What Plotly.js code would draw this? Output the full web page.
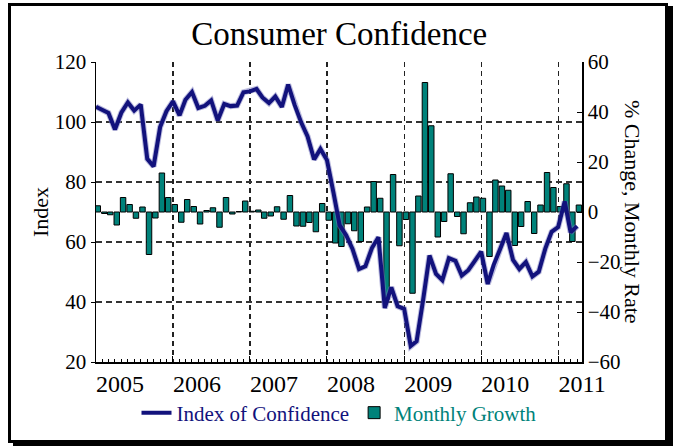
<!DOCTYPE html>
<html>
<head>
<meta charset="utf-8">
<script src="https://cdn.plot.ly/plotly-3.0.1.min.js"></script>
<style>
  html, body { margin: 0; padding: 0; background: #fff; }
  #chart { width: 673px; height: 446px; }
  #frame {
    position: absolute; left: 8px; top: 3px;
    width: 654px; height: 434px;
    border: 3px solid #000;
    box-shadow: 5px 3px 0 #000;
    pointer-events: none;
  }
</style>
</head>
<body>
<div id="chart"></div>
<div id="frame"></div>
<script>
// ---- Data ----
const years = ['2005', '2006', '2007', '2008', '2009', '2010', '2011'];

// Index of Confidence, monthly, Jan 2005 - Apr 2011
const index2005 = [105.1, 104.0, 103.0, 97.5, 103.1, 106.5, 103.8, 105.8, 87.7, 85.2, 98.3, 103.6];
const index2006 = [106.9, 102.2, 107.4, 110.0, 104.7, 105.4, 107.2, 100.5, 106.0, 105.3, 105.5, 109.9];
const index2007 = [110.2, 111.0, 108.2, 106.3, 108.5, 105.0, 112.5, 105.6, 99.8, 95.2, 87.5, 91.0];
const index2008 = [87.3, 76.4, 65.6, 62.3, 57.7, 51.0, 51.9, 58.0, 61.6, 38.0, 44.9, 38.6];
const index2009 = [37.7, 25.3, 26.9, 40.8, 55.5, 49.4, 47.3, 54.6, 53.7, 48.8, 50.6, 53.6];
const index2010 = [56.8, 46.0, 52.3, 57.7, 63.0, 54.0, 51.0, 53.3, 48.5, 50.1, 57.8, 63.4];
const index2011 = [65.0, 73.5, 63.2, 65.3];

// Monthly Growth (% change), Jan 2005 - Apr 2011
const growth2005 = [2.5, -0.6, -1.1, -5.2, 5.8, 3.0, -2.5, 2.0, -17.0, -2.4, 15.6, 5.8];
const growth2006 = [3.0, -4.1, 5.0, 2.2, -4.8, 0.6, 1.7, -6.1, 5.8, -0.8, 0.2, 4.4];
const growth2007 = [0.3, 0.8, -2.5, -1.6, 2.1, -2.9, 6.6, -5.6, -5.7, -4.2, -7.9, 3.4];
const growth2008 = [-3.3, -12.4, -13.8, -4.7, -7.5, -11.8, 2.0, 12.2, 5.5, -35.0, 15.0, -13.5];
const growth2009 = [-3.0, -32.5, 6.4, 51.8, 34.5, -10.0, -3.8, 15.3, -1.8, -8.7, 3.7, 6.0];
const growth2010 = [5.5, -17.8, 12.8, 10.4, 8.7, -13.4, -5.8, 4.2, -8.6, 2.8, 15.8, 9.8];
const growth2011 = [2.2, 11.3, -11.8, 2.8];

// ---- Build series ----
const indexByYear = [index2005, index2006, index2007, index2008, index2009, index2010, index2011];
const growthByYear = [growth2005, growth2006, growth2007, growth2008, growth2009, growth2010, growth2011];

const dates = [], indexVals = [], growthVals = [];
indexByYear.forEach((arr, yi) => {
  arr.forEach((v, mi) => {
    dates.push(years[yi] + '-' + String(mi + 1).padStart(2, '0') + '-01');
    indexVals.push(v);
    growthVals.push(growthByYear[yi][mi]);
  });
});

const MONTH_MS = 30.44 * 24 * 3600 * 1000;
const FONT = 'Liberation Serif, Times New Roman, serif';
const NAVY = '#12127c';
const TEAL = '#00827a';

const bars = {
  type: 'bar',
  name: '<span style="color:' + TEAL + '">Monthly Growth</span>',
  x: dates,
  y: growthVals,
  yaxis: 'y',
  width: 0.85 * MONTH_MS,
  offset: -0.15 * MONTH_MS,
  marker: { color: TEAL, line: { color: '#000', width: 1 } }
};

const halo = {
  type: 'scatter', mode: 'lines', x: dates, y: indexVals, yaxis: 'y2',
  line: { color: 'rgba(120,120,190,0.5)', width: 6 },
  showlegend: false, hoverinfo: 'skip'
};

const line = {
  type: 'scatter', mode: 'lines',
  name: '<span style="color:' + NAVY + '">Index of Confidence</span>',
  x: dates, y: indexVals, yaxis: 'y2',
  line: { color: NAVY, width: 4 }
};

const layout = {
  width: 673, height: 446,
  margin: { l: 96, r: 91, t: 62, b: 84 },
  paper_bgcolor: '#fff', plot_bgcolor: '#fff',
  font: { family: FONT, color: '#000', size: 21 },
  title: {
    text: 'Consumer Confidence',
    font: { family: FONT, size: 33, color: '#000' },
    x: 0.504, xanchor: 'center', y: 0.925, yanchor: 'middle'
  },
  showlegend: true,
  legend: {
    orientation: 'h', x: 0.5, xanchor: 'center', y: -0.17, yanchor: 'middle',
    font: { family: FONT, size: 21 }, traceorder: 'reversed',
    itemwidth: 30, bgcolor: 'rgba(0,0,0,0)'
  },
  bargap: 0,
  xaxis: {
    type: 'date',
    range: ['2005-01-01', '2011-04-24'],
    tick0: '2005-01-01', dtick: 'M12', tickformat: '%Y',
    ticks: 'inside', ticklen: 6, tickcolor: '#000',
    ticklabelshift: 24,
    tickfont: { family: FONT, size: 24 },
    showgrid: true, gridcolor: '#222', griddash: '5px,4px', gridwidth: 1.2,
    showline: true, linecolor: '#000', linewidth: 1.5,
    zeroline: false,
    minor: { dtick: 'M1', ticks: 'inside', ticklen: 3, tickcolor: '#000', showgrid: false }
  },
  yaxis: {
    side: 'right', range: [-60, 60], dtick: 20,
    ticks: 'inside', ticklen: 5, tickcolor: '#000',
    tickfont: { family: FONT, size: 21 },
    showgrid: false, zeroline: false,
    showline: true, linecolor: '#000', linewidth: 1.5
  },
  yaxis2: {
    overlaying: 'y', side: 'left', range: [20, 120], dtick: 20,
    ticks: 'outside', ticklen: 4, tickcolor: '#000',
    tickfont: { family: FONT, size: 21 },
    title: { text: 'Index', font: { family: FONT, size: 22 }, standoff: 0 },
    showgrid: true, gridcolor: '#333', griddash: '6px,4px', gridwidth: 1.2,
    zeroline: false,
    showline: true, linecolor: '#000', linewidth: 1.5
  },
  annotations: [{
    text: '% Change, Monthly Rate',
    xref: 'paper', yref: 'paper', x: 1.0, y: 0.5,
    xanchor: 'center', yanchor: 'middle', xshift: 51,
    textangle: 90, showarrow: false,
    font: { family: FONT, size: 22, color: '#000' }
  }]
};

Plotly.newPlot('chart', [bars, halo, line], layout, { displayModeBar: false, staticPlot: true });
</script>
</body>
</html>
